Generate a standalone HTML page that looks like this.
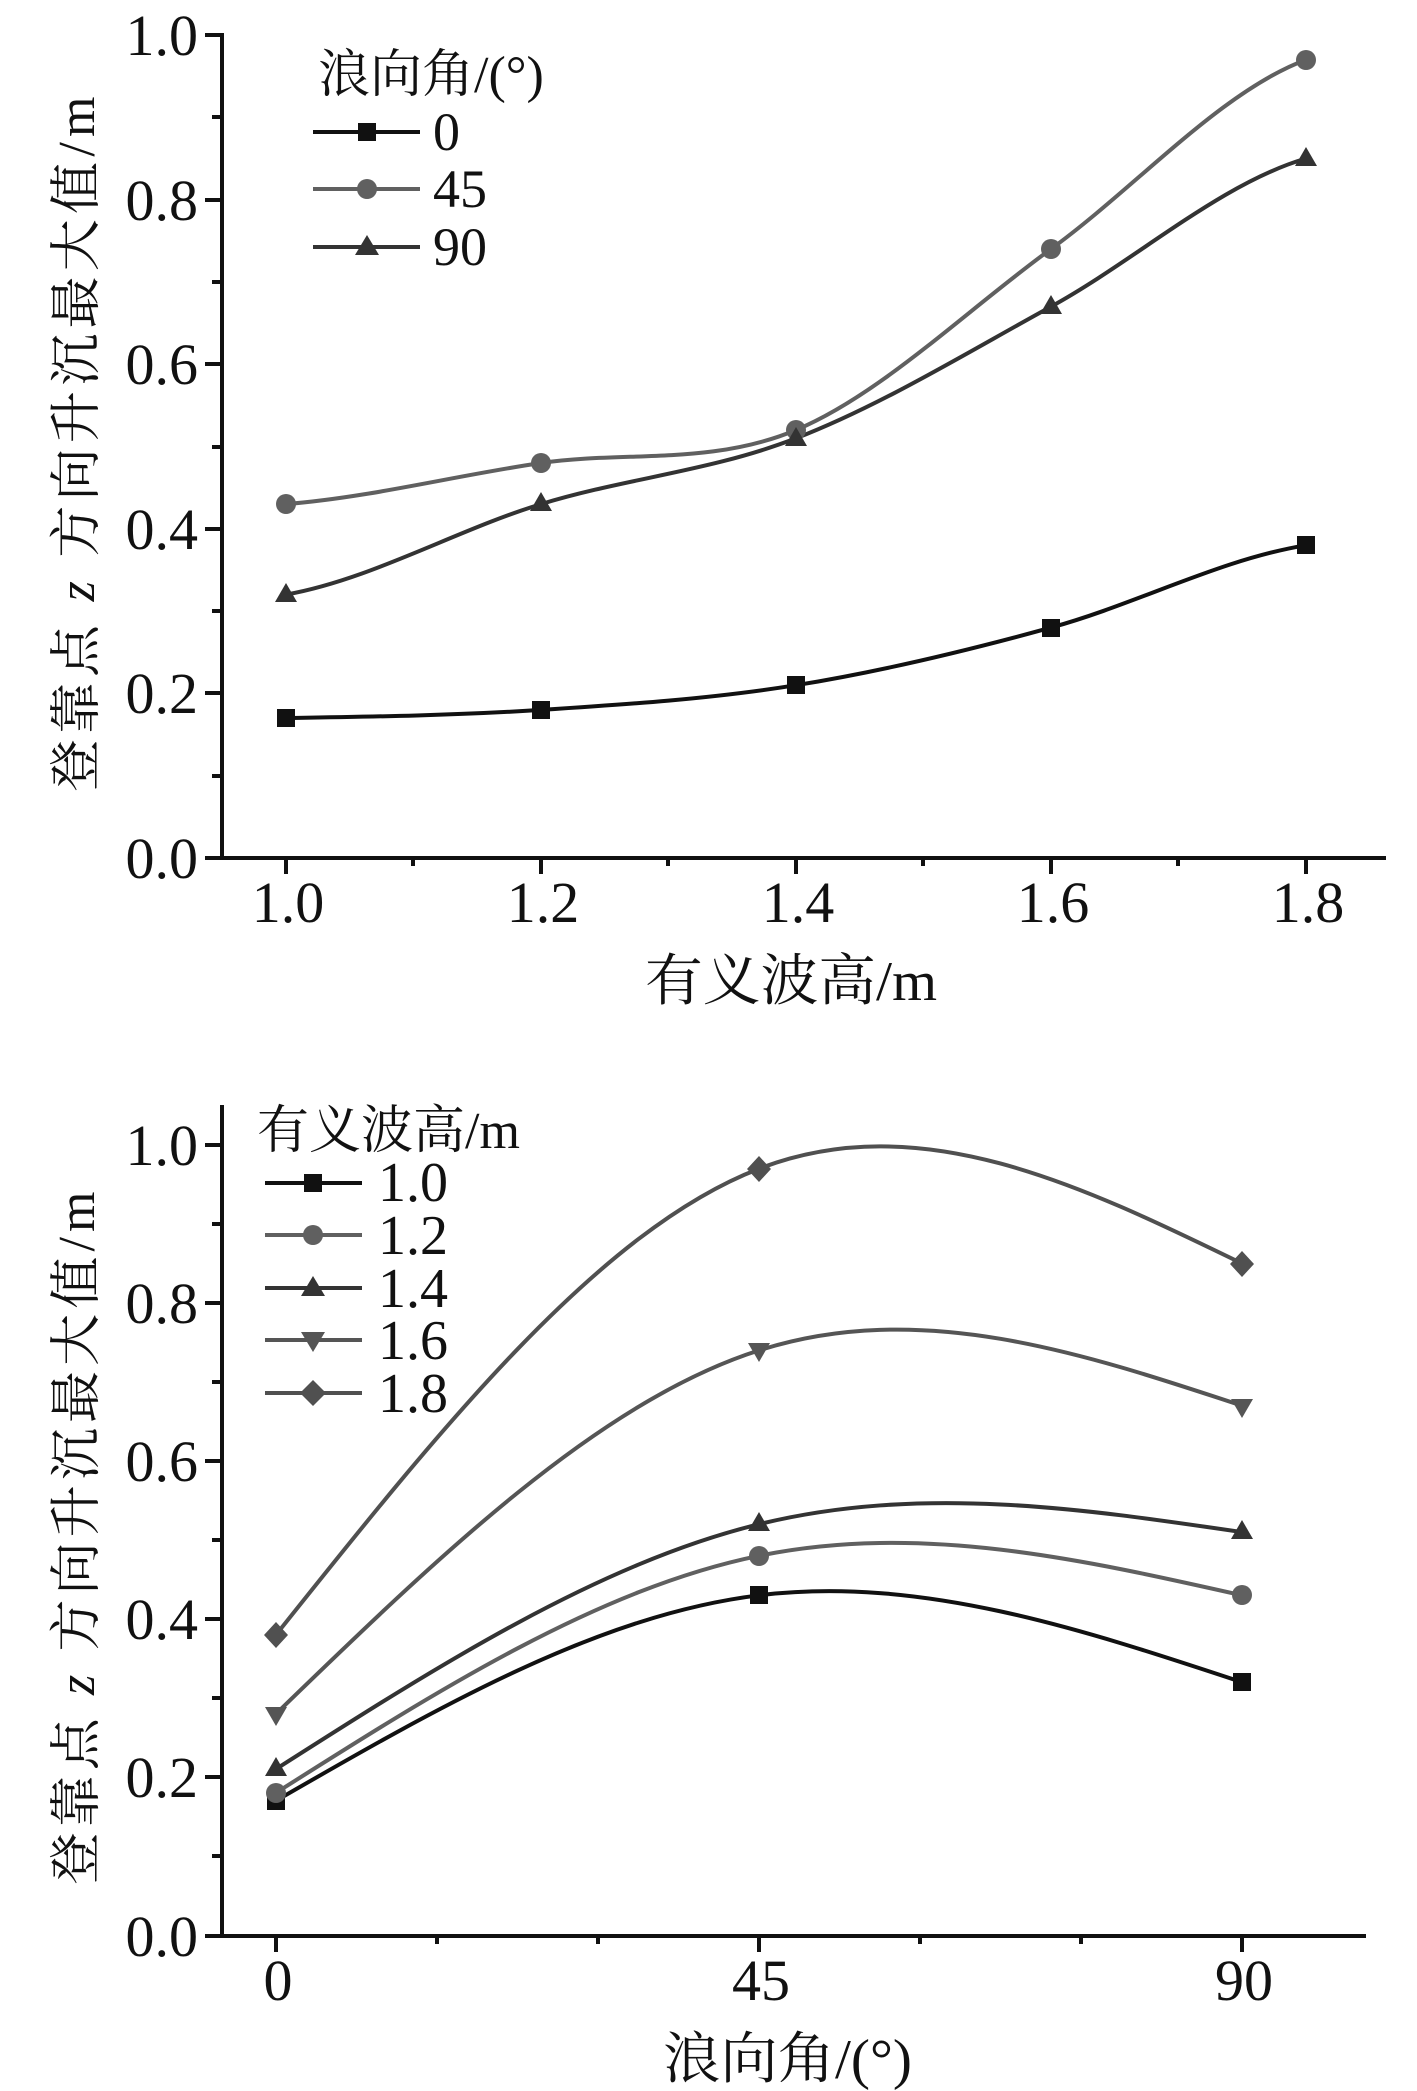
<!DOCTYPE html>
<html><head><meta charset="utf-8"><style>
html,body{margin:0;padding:0;background:#fff;}
svg{display:block;}
text{font-family:"Liberation Serif","Times New Roman",Times,"Noto Serif CJK SC",serif;fill:#111;}
</style></head><body>
<svg width="1417" height="2091" viewBox="0 0 1417 2091" xmlns="http://www.w3.org/2000/svg">
<!-- ===== TOP CHART ===== -->
<g stroke="#111" stroke-width="4" fill="none">
<line x1="222" y1="33" x2="222" y2="860"/>
<line x1="205" y1="858" x2="1386" y2="858"/>
<line x1="205" y1="35" x2="222" y2="35"/><line x1="205" y1="200" x2="222" y2="200"/><line x1="205" y1="364" x2="222" y2="364"/><line x1="205" y1="529" x2="222" y2="529"/><line x1="205" y1="693" x2="222" y2="693"/>
<line x1="212" y1="117" x2="222" y2="117"/><line x1="212" y1="282" x2="222" y2="282"/><line x1="212" y1="447" x2="222" y2="447"/><line x1="212" y1="611" x2="222" y2="611"/><line x1="212" y1="776" x2="222" y2="776"/>
<line x1="286" y1="858" x2="286" y2="874"/><line x1="541" y1="858" x2="541" y2="874"/><line x1="796" y1="858" x2="796" y2="874"/><line x1="1051" y1="858" x2="1051" y2="874"/><line x1="1306" y1="858" x2="1306" y2="874"/>
<line x1="413" y1="858" x2="413" y2="866"/><line x1="668" y1="858" x2="668" y2="866"/><line x1="923" y1="858" x2="923" y2="866"/><line x1="1178" y1="858" x2="1178" y2="866"/>
</g>
<g font-size="58" text-anchor="end">
<text x="198" y="55">1.0</text><text x="198" y="220">0.8</text><text x="198" y="384">0.6</text><text x="198" y="549">0.4</text><text x="198" y="713">0.2</text><text x="198" y="878">0.0</text>
</g>
<g font-size="58" text-anchor="middle">
<text x="288" y="922">1.0</text><text x="543" y="922">1.2</text><text x="798" y="922">1.4</text><text x="1053" y="922">1.6</text><text x="1308" y="922">1.8</text>
</g>
<text x="645" y="1000" font-size="56" textLength="292" lengthAdjust="spacingAndGlyphs">有义波高/m</text>
<text transform="translate(94,444) rotate(-90)" font-size="52" text-anchor="middle" textLength="695" lengthAdjust="spacing">登靠点 <tspan font-style="italic" font-family="Liberation Serif, Times New Roman, serif">z</tspan> 方向升沉最大值/m</text>

<path d="M286 718.1 C371 716.7 456 715.4 541 709.9 C626 704.4 711 698.9 796 685.2 C881 671.5 966 651 1051 627.6 C1136 604.3 1221 559 1306 545.3" stroke="#111" stroke-width="4" fill="none"/>
<path d="M286 504.1 C371 497.3 456 475.4 541 463 C626 450.7 711 465.7 796 430 C881 394.3 966 310.7 1051 249 C1136 187.3 1221 91.3 1306 59.7" stroke="#606060" stroke-width="4" fill="none"/>
<path d="M286 594.6 C371 579.5 456 530.2 541 504.1 C626 478.1 711 471.2 796 438.3 C881 405.4 966 353.2 1051 306.6 C1136 260 1221 183.2 1306 158.5" stroke="#333" stroke-width="4" fill="none"/>
<g fill="#111">
<rect x="277" y="709" width="18" height="18"/><rect x="532" y="701" width="18" height="18"/><rect x="787" y="676" width="18" height="18"/><rect x="1042" y="619" width="18" height="18"/><rect x="1297" y="536" width="18" height="18"/>
</g>
<g fill="#606060">
<circle cx="286" cy="504" r="10"/><circle cx="541" cy="463" r="10"/><circle cx="796" cy="430" r="10"/><circle cx="1051" cy="249" r="10"/><circle cx="1306" cy="60" r="10"/>
</g>
<g fill="#333">
<path d="M286 583 l11 19 h-22z"/><path d="M541 492 l11 19 h-22z"/><path d="M796 427 l11 19 h-22z"/><path d="M1051 295 l11 19 h-22z"/><path d="M1306 147 l11 19 h-22z"/>
</g>
<text x="318" y="92" font-size="52">浪向角/(°)</text>
<line x1="313" y1="132" x2="420" y2="132" stroke="#111" stroke-width="4"/><rect x="358" y="123" width="18" height="18" fill="#111"/>
<line x1="313" y1="189" x2="420" y2="189" stroke="#606060" stroke-width="4"/><circle cx="367" cy="189" r="10" fill="#606060"/>
<line x1="313" y1="247" x2="420" y2="247" stroke="#333" stroke-width="4"/><path d="M367 235 l12 20 h-24z" fill="#333"/>
<g font-size="54"><text x="433" y="150">0</text><text x="433" y="207">45</text><text x="433" y="265">90</text></g>

<!-- ===== BOTTOM CHART ===== -->
<g stroke="#111" stroke-width="4" fill="none">
<line x1="222" y1="1105" x2="222" y2="1938"/>
<line x1="205" y1="1936" x2="1366" y2="1936"/>
<line x1="205" y1="1145" x2="222" y2="1145"/><line x1="205" y1="1303" x2="222" y2="1303"/><line x1="205" y1="1461" x2="222" y2="1461"/><line x1="205" y1="1619" x2="222" y2="1619"/><line x1="205" y1="1777" x2="222" y2="1777"/>
<line x1="212" y1="1224" x2="222" y2="1224"/><line x1="212" y1="1382" x2="222" y2="1382"/><line x1="212" y1="1540" x2="222" y2="1540"/><line x1="212" y1="1698" x2="222" y2="1698"/><line x1="212" y1="1856" x2="222" y2="1856"/>
<line x1="276" y1="1936" x2="276" y2="1952"/><line x1="759" y1="1936" x2="759" y2="1952"/><line x1="1242" y1="1936" x2="1242" y2="1952"/>
<line x1="437" y1="1936" x2="437" y2="1944"/><line x1="598" y1="1936" x2="598" y2="1944"/><line x1="920" y1="1936" x2="920" y2="1944"/><line x1="1081" y1="1936" x2="1081" y2="1944"/>
</g>
<g font-size="58" text-anchor="end">
<text x="198" y="1165">1.0</text><text x="198" y="1323">0.8</text><text x="198" y="1481">0.6</text><text x="198" y="1639">0.4</text><text x="198" y="1797">0.2</text><text x="198" y="1956">0.0</text>
</g>
<g font-size="58" text-anchor="middle">
<text x="278" y="2000">0</text><text x="761" y="2000">45</text><text x="1244" y="2000">90</text>
</g>
<text x="663" y="2078" font-size="56" textLength="249" lengthAdjust="spacingAndGlyphs">浪向角/(°)</text>
<text transform="translate(94,1538) rotate(-90)" font-size="52" text-anchor="middle" textLength="693" lengthAdjust="spacing">登靠点 <tspan font-style="italic" font-family="Liberation Serif, Times New Roman, serif">z</tspan> 方向升沉最大值/m</text>

<g stroke-width="4" fill="none">
<path d="M276 1800.7 C437 1707.9 598 1615 759 1595.3 C920 1575.6 1081 1628.9 1242 1682.2" stroke="#111"/>
<path d="M276 1792.8 C437 1690.8 598 1588.7 759 1555.8 C920 1522.9 1081 1559.1 1242 1595.3" stroke="#606060"/>
<path d="M276 1769.1 C437 1666.4 598 1563.7 759 1524.2 C920 1484.7 1081 1508.4 1242 1532.1" stroke="#333"/>
<path d="M276 1713.8 C437 1557.8 598 1401.8 759 1350.4 C920 1299.1 1081 1352.4 1242 1405.7" stroke="#555"/>
<path d="M276 1634.8 C437 1432.7 598 1230.6 759 1168.7 C920 1106.8 1081 1185.2 1242 1263.5" stroke="#505050"/>
</g>
<g fill="#111"><rect x="267" y="1792" width="18" height="18"/><rect x="750" y="1586" width="18" height="18"/><rect x="1233" y="1673" width="18" height="18"/></g>
<g fill="#606060"><circle cx="276" cy="1793" r="10"/><circle cx="759" cy="1556" r="10"/><circle cx="1242" cy="1595" r="10"/></g>
<g fill="#333"><path d="M276 1757 l11 19 h-22z"/><path d="M759 1512 l11 19 h-22z"/><path d="M1242 1520 l11 19 h-22z"/></g>
<g fill="#555"><path d="M276 1726 l11 -19 h-22z"/><path d="M759 1362 l11 -19 h-22z"/><path d="M1242 1418 l11 -19 h-22z"/></g>
<g fill="#505050"><path d="M276 1622 l12 13 l-12 13 l-12 -13z"/><path d="M759 1156 l12 13 l-12 13 l-12 -13z"/><path d="M1242 1251 l12 13 l-12 13 l-12 -13z"/></g>
<text x="257" y="1148" font-size="52">有义波高/m</text>
<line x1="265" y1="1183" x2="362" y2="1183" stroke="#111" stroke-width="4"/><rect x="304" y="1174" width="18" height="18" fill="#111"/>
<line x1="265" y1="1235" x2="362" y2="1235" stroke="#606060" stroke-width="4"/><circle cx="313" cy="1235" r="10" fill="#606060"/>
<line x1="265" y1="1288" x2="362" y2="1288" stroke="#333" stroke-width="4"/><path d="M313 1276 l12 20 h-24z" fill="#333"/>
<line x1="265" y1="1340" x2="362" y2="1340" stroke="#555" stroke-width="4"/><path d="M313 1352 l12 -20 h-24z" fill="#555"/>
<line x1="265" y1="1393" x2="362" y2="1393" stroke="#505050" stroke-width="4"/><path d="M313 1380 l13 13 l-13 13 l-13 -13z" fill="#505050"/>
<g font-size="56"><text x="378" y="1201">1.0</text><text x="378" y="1254">1.2</text><text x="378" y="1307">1.4</text><text x="378" y="1359">1.6</text><text x="378" y="1412">1.8</text></g>
</svg>
</body></html>
